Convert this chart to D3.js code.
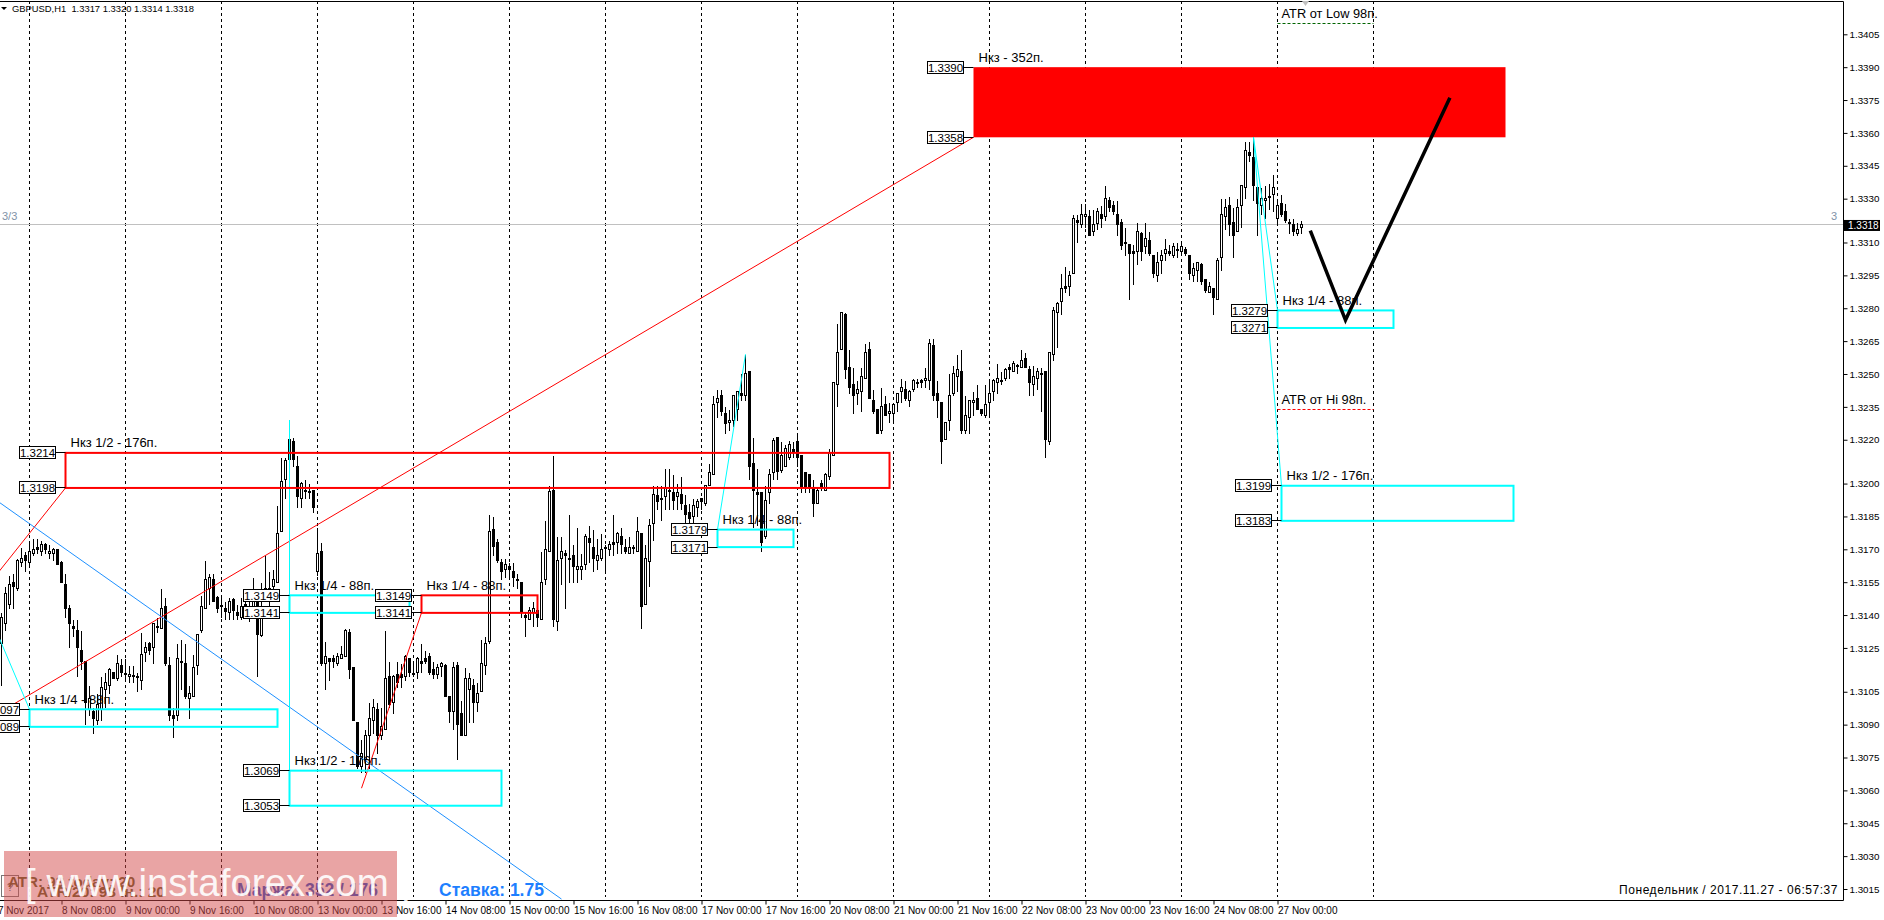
<!DOCTYPE html>
<html>
<head>
<meta charset="utf-8">
<script src="https://cdnjs.cloudflare.com/ajax/libs/d3/7.8.5/d3.min.js"></script>
<style>
  body { margin: 0; background: #fff; }
  text { font-family: "Liberation Sans", Arial, sans-serif; }
</style>
</head>
<body>
<div id="chart"></div>
<script>
// GBPUSD H1 candles, one list per trading day.
// each row is open, high, low, close in points (price x 10000)
var nov07 = [[13127,13141,13108,13139],[13136,13153,13133,13150],[13145,13158,13143,13154],[13155,13159,13143,13153],[13152,13166,13151,13165],[13164,13171,13162,13166],[13167,13169,13160,13165]];
var nov08 = [[13164,13174,13162,13169],[13168,13175,13167,13170],[13171,13175,13168,13170],[13169,13174,13167,13172],[13172,13173,13168,13170],[13168,13172,13166,13169],[13168,13171,13165,13170],[13170,13170,13163,13163],[13164,13165,13155,13155],[13154,13159,13139,13143],[13143,13145,13125,13136],[13135,13138,13130,13134],[13133,13138,13112,13125],[13124,13133,13115,13119],[13119,13119,13090,13100],[13097,13108,13094,13102],[13096,13098,13086,13093],[13092,13104,13090,13099],[13097,13112,13092,13107],[13106,13114,13098,13109],[13108,13116,13104,13115],[13114,13114,13111,13111],[13111,13122,13110,13118],[13117,13120,13112,13114]];
var nov09 = [[13113.5,13120,13110,13113],[13112,13117,13109,13113],[13112.5,13117,13109,13112.5],[13112,13114,13105,13112],[13110,13132,13106,13122],[13123,13128,13119,13125],[13127,13128,13122,13124],[13125,13136,13118,13136],[13135,13139,13132,13135],[13134,13152,13134,13143],[13144,13148,13117,13118],[13117,13121,13092,13094],[13094,13098,13084,13093],[13094,13127,13092,13120],[13119,13129,13106,13119],[13118,13127,13102,13103],[13102,13108,13093,13104],[13103,13122,13103,13116],[13117,13131,13113,13131],[13133,13149,13132,13144],[13143,13165,13143,13156],[13152,13159,13145,13157],[13156,13159,13146,13146],[13148,13149,13141,13143]];
var nov10 = [[13144.5,13148,13139,13144],[13143,13146,13138,13141.5],[13141,13148,13138,13146],[13147,13148,13138,13142],[13141,13145,13138,13140],[13139,13148,13138,13144],[13145,13147,13139,13140],[13139,13147,13137,13144],[13143,13157,13142,13150],[13149,13150,13112,13131],[13130.5,13155,13130,13144],[13147,13167,13147,13152],[13151,13160,13144,13152],[13153,13161,13150,13156],[13155,13190,13155,13177],[13178,13212,13178,13201],[13202,13212,13193,13210.5],[13211,13220,13211,13220],[13219,13221,13208,13211],[13208,13213,13189,13194],[13193,13201,13189,13200],[13197,13202,13193,13197],[13196.5,13200,13193,13196.5],[13197,13197,13187,13189]];
var nov13 = [[13160,13180,13158,13168],[13169,13173,13117,13118],[13118,13128,13106,13121],[13120,13120,13110,13119],[13120,13122,13116,13119],[13118,13123,13117,13121],[13120,13126,13120,13122],[13121,13134,13121,13133],[13132,13134,13111,13115],[13116,13116,13092,13092],[13091,13091,13070,13071],[13071,13083,13068,13077],[13074,13088,13068,13085],[13085,13100,13070,13093],[13092,13102,13086,13098],[13097,13100,13077,13085],[13085,13098,13083,13089],[13088,13133,13088,13111],[13112,13119,13098,13099],[13100,13113,13095,13112],[13113,13119,13107,13109],[13113,13118,13107,13111.5],[13112,13122,13110,13121],[13120,13120,13112,13114]];
var nov14 = [[13113.5,13119,13112,13113.5],[13114,13121,13111,13120],[13119,13127,13114,13118],[13120,13124,13118,13119],[13121,13123,13113,13114],[13115,13119,13111,13113],[13113,13118,13111,13116],[13116.5,13119,13112,13118],[13117,13118,13103,13103],[13103,13103,13091,13096],[13096,13119,13088,13116],[13117,13119,13074,13090],[13095,13101,13085,13085],[13085,13116,13085,13111],[13106,13114,13091,13111],[13108,13111,13091,13100],[13100,13109,13096,13104],[13105,13129,13105,13118],[13117,13130,13113,13127],[13128,13186,13127,13178],[13179,13185,13167,13171.5],[13173,13175,13164,13165],[13164,13166,13156,13160],[13161,13166,13157,13163]];
var nov15 = [[13162,13164,13156,13161],[13160,13164,13153,13157],[13156,13159,13152,13156],[13155,13155,13139,13141],[13140,13141,13130,13139],[13138,13144,13138,13142],[13141,13146,13135,13143],[13142,13143,13135,13139],[13138,13169,13138,13155],[13156,13183,13154,13170],[13169,13199,13169,13196.5],[13197,13213,13135,13138],[13137,13176,13133,13165],[13166,13176,13154,13169],[13168,13170,13143,13167],[13166,13186,13155,13166],[13167,13172,13155,13162],[13161,13180,13155,13162],[13161,13168,13156,13162],[13163,13177,13161,13176],[13175,13181,13164,13173],[13171,13179,13160,13166],[13165,13175,13161,13167],[13166,13177,13165,13170]];
var nov16 = [[13171,13172,13159,13171],[13170,13174,13167,13172],[13173,13186,13167,13172],[13173,13178,13168,13177],[13176,13180,13168,13172],[13171,13175,13168,13169],[13168,13176,13168,13171],[13171,13172,13168,13170.5],[13169,13185,13169,13178],[13177,13177,13134,13144],[13145,13172,13145,13166],[13164.5,13184,13153,13181],[13182,13199,13174,13195],[13194.5,13199,13188,13192],[13193,13199,13183,13193],[13194,13207,13188,13198],[13197,13207,13188,13197],[13196,13204,13188,13192.5],[13194,13200,13188,13196],[13195,13203,13188,13191],[13190,13195,13182,13186],[13187,13191,13178,13184],[13185,13193,13178,13190],[13189,13193,13185,13192]];
var nov17 = [[13193,13193,13188,13192],[13191,13199,13190,13199],[13199,13209,13199,13205],[13204,13240,13204,13236],[13237,13243,13230,13239],[13240,13243,13231,13233],[13232,13235,13223,13227.5],[13228,13234,13224,13229],[13229,13240,13226,13240],[13234,13242,13229,13242],[13241,13250,13238,13240],[13240,13259,13238,13250],[13251,13251,13202,13208],[13209,13221,13180,13197],[13196,13207,13181,13195],[13196,13196,13169,13173],[13176,13199,13175,13192.5],[13196,13207,13191,13204],[13205,13221,13202,13219.5],[13221,13221,13202,13205.5],[13206,13219,13205,13213],[13208,13218,13208,13216],[13212,13219.5,13211,13218],[13215.5,13219,13212,13214.5]];
var nov20 = [[13219,13223,13208,13212],[13213,13213,13196,13198],[13205,13205,13196,13198],[13204,13204,13196,13198],[13198,13202,13185,13191],[13191,13198,13191,13197],[13200,13202,13197,13198],[13197,13205,13197,13204],[13203,13216,13202,13214],[13213,13246,13213,13246],[13245,13273,13235,13260],[13261,13278,13261,13278],[13277,13278,13248,13252],[13253,13261,13241,13244],[13245,13253,13232,13240],[13241,13247,13236,13243],[13242,13253,13233,13249],[13248,13264,13248,13260],[13261,13265,13239,13239],[13238,13243,13232,13233],[13234,13234,13223,13223],[13224,13244,13223,13235],[13236,13240,13231,13231],[13232,13237,13228,13233]];
var nov21 = [[13232,13237,13228,13236],[13237,13241,13233,13241],[13242,13248,13237,13244],[13243,13247,13238,13239],[13238,13243,13235,13242],[13243,13248,13242,13247],[13246,13248,13244,13246],[13247,13248,13244,13246],[13247,13253,13244,13248],[13247,13266,13243,13264],[13263,13266,13238,13240],[13241,13247,13230,13238],[13237,13237,13209,13219],[13220,13228,13220,13228],[13229,13250,13224,13240],[13241,13254,13240,13250],[13249,13259,13242,13252],[13251,13261,13223,13224],[13224,13240,13223,13231],[13230,13238,13223,13238],[13237,13242,13231,13238],[13239,13245,13234,13234],[13234,13234,13231,13232],[13231,13245,13230,13236]];
var nov22 = [[13237,13248,13231,13241],[13242,13248,13238,13247],[13246,13255,13241,13248],[13247,13251,13245,13247],[13248,13253,13247,13252],[13253,13255,13248,13252],[13251,13256,13251,13255],[13254,13255,13250,13254],[13253,13261,13253,13256],[13257,13260,13253,13253],[13252,13254,13240,13246],[13245,13254,13240,13249],[13248,13253,13243,13251],[13250,13253,13233,13250],[13251,13251,13212,13220],[13219,13260,13218,13260],[13259,13281,13256,13279],[13278,13283,13262,13282],[13283,13296,13277,13289],[13290,13299,13287,13289],[13290,13297,13286,13295],[13296,13323,13296,13321],[13320,13323,13310,13319],[13318,13328,13317,13323]];
var nov23 = [[13322,13328,13317,13323],[13322,13325,13313,13313],[13315,13325,13313,13318],[13318.5,13326,13316,13324],[13323,13327,13317,13321],[13322,13336,13320,13330],[13329,13331,13324,13326],[13327,13329,13323,13324],[13323,13329,13313,13318],[13319,13321,13307,13308.5],[13310,13317,13304,13310],[13309,13309,13284,13305],[13306,13309,13291,13305],[13306,13319,13300,13315],[13314,13315,13302,13306],[13308,13319,13305,13312],[13311,13315,13304,13305],[13304,13304,13294,13296],[13295,13306,13292,13301],[13302,13307,13296,13304],[13305,13312,13302,13307],[13306,13309,13304,13305],[13304,13310,13303,13308],[13307,13310,13303,13307]];
var nov24 = [[13306,13311,13305,13308],[13307,13308,13304,13305],[13304,13304,13293,13296],[13295,13301,13292,13298],[13297,13301,13292,13301],[13300,13301,13291,13292],[13293,13293,13287,13288],[13287,13292,13287,13290],[13289,13289,13277,13285],[13284,13303,13284,13302],[13303,13330,13297,13323],[13322,13330,13316,13326],[13327,13331,13313,13318],[13319,13326,13303,13313],[13315,13330,13315,13326],[13327,13336,13317,13336],[13335,13356,13330,13352],[13351,13356,13347,13349.5],[13349,13359,13329,13336],[13335,13335,13313,13328],[13327,13335,13323,13330],[13329,13336,13321,13330],[13331,13337,13325,13331],[13332,13341,13324,13335]];
var nov27 = [[13321,13330,13318,13327],[13328,13332,13322,13323],[13324,13328,13319,13320],[13319,13321,13314,13319],[13318,13321,13313,13315],[13314,13319,13313,13316],[13317,13320,13314,13318]];

var candles = [].concat(nov07, nov08, nov09, nov10, nov13, nov14, nov15, nov16, nov17, nov20, nov21, nov22, nov23, nov24, nov27);

var priceTicks = [1.3405, 1.3390, 1.3375, 1.3360, 1.3345, 1.3330, 1.3310, 1.3295, 1.3280, 1.3265, 1.3250, 1.3235, 1.3220, 1.3200, 1.3185, 1.3170, 1.3155, 1.3140, 1.3125, 1.3105, 1.3090, 1.3075, 1.3060, 1.3045, 1.3030, 1.3015];

// bar number of each time label, the labels sit every 16 bars
var timeBars = [-1, 15, 31, 47, 63, 79, 95, 111, 127, 143, 159, 175, 191, 207, 223, 239, 255, 271, 287, 303, 319];
var timeLabels = ["7 Nov 2017", "8 Nov 08:00", "9 Nov 00:00", "9 Nov 16:00", "10 Nov 08:00", "13 Nov 00:00", "13 Nov 16:00", "14 Nov 08:00", "15 Nov 00:00", "15 Nov 16:00", "16 Nov 08:00", "17 Nov 00:00", "17 Nov 16:00", "20 Nov 08:00", "21 Nov 00:00", "21 Nov 16:00", "22 Nov 08:00", "23 Nov 00:00", "23 Nov 16:00", "24 Nov 08:00", "27 Nov 00:00"];

// midnight separators, in bars
var dayBars = [7, 31, 55, 79, 103, 127, 151, 175, 199, 223, 247, 271, 295, 319, 343];

// boxes: first bar, last bar, upper and lower price, caption
var redBoxes = [
  [16, 222, 1.3214, 1.3198, "Нкз 1/2 - 176п."],
  [105, 134, 1.3149, 1.3141, "Нкз 1/4 - 88п."]
];
var cyanBoxes = [
  [7, 69, 1.3097, 1.3089, "Нкз 1/4 - 88п."],
  [72, 102, 1.3149, 1.3141, "Нкз 1/4 - 88п."],
  [72, 125, 1.3069, 1.3053, "Нкз 1/2 - 176п."],
  [179, 198, 1.3179, 1.3171, "Нкз 1/4 - 88п."],
  [319, 348, 1.3279, 1.3271, "Нкз 1/4 - 88п."],
  [320, 378, 1.3199, 1.3183, "Нкз 1/2 - 176п."]
];
var solidBox = [243, 376, 1.3390, 1.3358, "Нкз - 352п."];

// trend lines: bar, price, bar, price
var redLines = [
  [243, 1.3358, -1, 1.3095],
  [16, 1.3198, -1, 1.3159],
  [105, 1.3141, 90, 1.3061]
];
var cyanLines = [
  [72, 1.3229, 72, 1.3069],
  [-1, 1.31314, 7, 1.3097],
  [179, 1.3179, 186, 1.3259],
  [313, 1.3358, 319, 1.3279],
  [313, 1.3358, 320, 1.3199]
];
var blueLines = [[-1, 1.3192, 140, 1.30104]];

var forecastBars = [327.2, 336, 362.1];
var forecastPrices = [1.33154, 1.32746, 1.33761];

var lastPrice = 1.3318;
var atrLow = 1.3410;
var atrHigh = 1.3234;

var svgWidth = 1884;
var svgHeight = 920;
var plotRight = 1843;
var plotTop = 1;
var plotBottom = 900;

var svg = d3.select("#chart")
  .append("svg")
  .attr("width", svgWidth)
  .attr("height", svgHeight)
  .style("display", "block");

var x = d3.scaleLinear().domain([0, 325]).range([1.5, 1301.5]);
var y = d3.scaleLinear().domain([1.3405, 1.3015]).range([34.3, 889]);
var py = p => y(p / 10000);
var snap = v => Math.round(v - 0.5) + 0.5;

svg.append("clipPath").attr("id", "plot")
  .append("rect")
  .attr("x", 0).attr("y", plotTop)
  .attr("width", plotRight).attr("height", plotBottom - plotTop);

var chartGroup = svg.append("g").attr("clip-path", "url(#plot)");

// day separators
chartGroup.selectAll(".day")
  .data(dayBars)
  .enter()
  .append("line")
  .attr("x1", d => x(d)).attr("x2", d => x(d))
  .attr("y1", plotTop).attr("y2", plotBottom - 3)
  .attr("stroke", "#000")
  .attr("stroke-dasharray", "3,3");

// current price line
chartGroup.append("line")
  .attr("x1", 0).attr("x2", plotRight)
  .attr("y1", snap(y(lastPrice))).attr("y2", snap(y(lastPrice)))
  .attr("stroke", "#c0c0c0");

// candles
var candle = chartGroup.append("g").attr("shape-rendering", "crispEdges")
  .selectAll("g")
  .data(candles)
  .enter()
  .append("g");

candle.append("line")
  .attr("x1", (d, i) => x(i)).attr("x2", (d, i) => x(i))
  .attr("y1", d => snap(py(d[1]))).attr("y2", d => snap(py(d[2])))
  .attr("stroke", "#000");

candle.append("rect")
  .attr("x", (d, i) => x(i) - 1)
  .attr("width", 2)
  .attr("y", d => snap(py(Math.max(d[0], d[3]))))
  .attr("height", d => Math.max(1, snap(py(Math.min(d[0], d[3]))) - snap(py(Math.max(d[0], d[3])))))
  .attr("fill", d => d[3] >= d[0] ? "#fff" : "#000")
  .attr("stroke", "#000");

// solid red box
chartGroup.append("rect")
  .attr("x", x(solidBox[0]))
  .attr("width", x(solidBox[1]) - x(solidBox[0]))
  .attr("y", y(solidBox[2]))
  .attr("height", y(solidBox[3]) - y(solidBox[2]))
  .attr("fill", "#ff0000");

// thin lines
function drawLines(rows, color) {
  chartGroup.selectAll(null)
    .data(rows)
    .enter()
    .append("line")
    .attr("x1", d => x(d[0])).attr("y1", d => y(d[1]))
    .attr("x2", d => x(d[2])).attr("y2", d => y(d[3]))
    .attr("stroke", color)
    .attr("stroke-width", 1);
}
drawLines(redLines, "#ff0000");
drawLines(blueLines, "#1e90ff");
drawLines(cyanLines, "#00ffff");

// outlined boxes
function drawBoxes(rows, color) {
  chartGroup.selectAll(null)
    .data(rows)
    .enter()
    .append("rect")
    .attr("x", d => x(d[0]))
    .attr("width", d => x(d[1]) - x(d[0]))
    .attr("y", d => y(d[2]))
    .attr("height", d => y(d[3]) - y(d[2]))
    .attr("fill", "none")
    .attr("stroke", color)
    .attr("stroke-width", 2);
}
drawBoxes(redBoxes, "#ff0000");
drawBoxes(cyanBoxes, "#00ffff");

// atr levels
[[atrLow, "#006400", "ATR от Low 98п."], [atrHigh, "#ff0000", "ATR от Hi 98п."]].forEach(a => {
  chartGroup.append("line")
    .attr("x1", x(319)).attr("x2", x(343))
    .attr("y1", snap(y(a[0]))).attr("y2", snap(y(a[0])))
    .attr("stroke", a[1])
    .attr("stroke-dasharray", "3,2");
  chartGroup.append("text")
    .attr("x", x(319) + 4)
    .attr("y", y(a[0]) - 5.5)
    .attr("font-size", 12.8)
    .attr("fill", "#000")
    .text(a[2]);
});

// forecast path
var forecastLine = d3.line()
  .x((d, i) => x(forecastBars[i]))
  .y(d => y(d));

chartGroup.append("path")
  .datum(forecastPrices)
  .attr("d", forecastLine)
  .attr("fill", "none")
  .attr("stroke", "#000")
  .attr("stroke-width", 3.5);

// captions and price tags of the boxes
var allBoxes = redBoxes.concat(cyanBoxes, [solidBox]);

allBoxes.forEach(b => {
  var left = x(b[0]);
  chartGroup.append("text")
    .attr("x", left + 5)
    .attr("y", y(b[2]) - 5.5)
    .attr("font-size", 13)
    .attr("fill", "#000")
    .text(b[4]);

  [b[2], b[3]].forEach(p => {
    var cy = snap(y(p));
    chartGroup.append("line")
      .attr("x1", left - 10).attr("x2", left)
      .attr("y1", cy).attr("y2", cy)
      .attr("stroke", "#000");
    chartGroup.append("rect")
      .attr("x", snap(left - 46)).attr("y", cy - 6)
      .attr("width", 36).attr("height", 12)
      .attr("fill", "#fff")
      .attr("stroke", "#000");
    chartGroup.append("text")
      .attr("x", left - 28)
      .attr("y", cy + 4)
      .attr("text-anchor", "middle")
      .attr("font-size", 11.5)
      .attr("fill", "#000")
      .text(p.toFixed(4));
  });
});

// price axis
var rightAxis = d3.axisRight(y)
  .tickValues(priceTicks)
  .tickFormat(d3.format(".4f"))
  .tickSize(4)
  .tickPadding(2);

svg.append("g")
  .attr("transform", `translate(${plotRight + 0.5},0)`)
  .call(rightAxis)
  .call(g => g.select(".domain").remove())
  .selectAll("text")
  .attr("font-family", "Liberation Sans")
  .attr("font-size", 9.8)
  .attr("fill", "#000");

// time axis
var bottomAxis = d3.axisBottom(x)
  .tickValues(timeBars)
  .tickFormat((d, i) => timeLabels[i])
  .tickSize(4)
  .tickPadding(2);

svg.append("g")
  .attr("transform", `translate(0,${plotBottom + 0.5})`)
  .call(bottomAxis)
  .call(g => g.select(".domain").remove())
  .selectAll("text")
  .attr("text-anchor", "start")
  .attr("font-family", "Liberation Sans")
  .attr("font-size", 10)
  .attr("fill", "#000");

// frame
svg.append("path")
  .attr("d", `M0,1.5H${plotRight + 0.5}V${plotBottom + 0.5}H0`)
  .attr("fill", "none")
  .attr("stroke", "#000");

// last price tag
svg.append("rect")
  .attr("x", plotRight + 1).attr("y", y(lastPrice) - 5)
  .attr("width", 36).attr("height", 11)
  .attr("fill", "#000");
svg.append("text")
  .attr("x", plotRight + 5).attr("y", y(lastPrice) + 4)
  .attr("font-size", 10)
  .attr("fill", "#fff")
  .text(d3.format(".4f")(lastPrice));

// header and small marks
svg.append("path").attr("d", "M1,7H7L4,10Z").attr("fill", "#000");
svg.append("path").attr("d", "M1302,1H1309L1305.5,6Z").attr("fill", "#c0c0c0");
svg.append("text")
  .attr("x", 12).attr("y", 12)
  .attr("font-size", 9.4)
  .attr("xml:space", "preserve")
  .text("GBPUSD,H1  1.3317 1.3320 1.3314 1.3318");

svg.append("text").attr("x", 2).attr("y", 220)
  .attr("font-size", 11).attr("fill", "#7f93a8").text("3/3");
svg.append("text").attr("x", 1831).attr("y", 220)
  .attr("font-size", 11).attr("fill", "#7f93a8").text("3");

svg.append("text")
  .attr("x", 1838).attr("y", 894)
  .attr("text-anchor", "end")
  .attr("font-size", 12)
  .attr("letter-spacing", 0.54)
  .text("Понедельник / 2017.11.27 - 06:57:37");

// panel texts at the bottom left
svg.append("rect")
  .attr("x", 1.5).attr("y", 875.5)
  .attr("width", 17).attr("height", 21)
  .attr("fill", "none")
  .attr("stroke", "#777");
svg.append("text").attr("x", 7).attr("y", 891)
  .attr("font-size", 11).attr("fill", "#555").text("?");

svg.append("text").attr("x", 8).attr("y", 887)
  .attr("font-size", 15.2).attr("font-weight", "bold").attr("fill", "#5e5a24")
  .text("ATR: 93 today: 20");
svg.append("text").attr("x", 37).attr("y", 897)
  .attr("font-size", 15.5).attr("font-weight", "bold").attr("fill", "#5e5a24")
  .text("ATR/20: 98 Ін.: 20");
svg.append("text").attr("x", 237).attr("y", 896)
  .attr("font-size", 17.5).attr("font-weight", "bold").attr("fill", "#2a55c8")
  .text("Маржа: 352 / 176");
svg.append("text").attr("x", 439).attr("y", 896)
  .attr("font-size", 17.5).attr("font-weight", "bold").attr("fill", "#1e7fff")
  .text("Ставка: 1.75");

// watermark
svg.append("rect")
  .attr("x", 4).attr("y", 851)
  .attr("width", 393).attr("height", 66)
  .attr("fill", "#d44a4a")
  .attr("opacity", 0.5);
svg.append("text")
  .attr("x", 25).attr("y", 896)
  .attr("font-size", 38.5)
  .attr("fill", "#fff")
  .attr("opacity", 0.9)
  .text("[ www.instaforex.com ]");
</script>
</body>
</html>
